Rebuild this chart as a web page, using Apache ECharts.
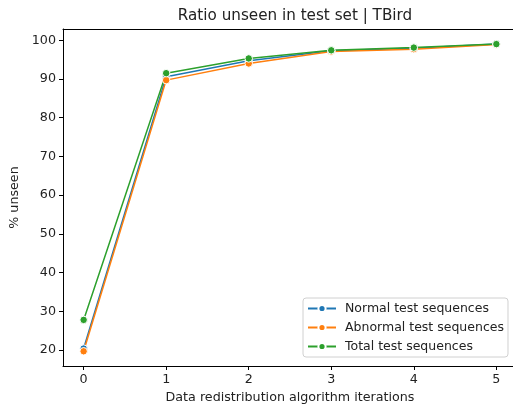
<!DOCTYPE html>
<html><head><meta charset="utf-8">
<script src="https://cdn.jsdelivr.net/npm/echarts@6/dist/echarts.min.js"></script>
<style>html,body{margin:0;padding:0;background:#fff}#c{width:513px;height:410px}</style>
</head><body><div id="c"></div>
<script>
const iterations = [0, 1, 2, 3, 4, 5];
const normalVals = [20.4, 90.6, 94.7, 97.3, 97.9, 99.0];
const abnormalVals = [19.7, 89.7, 94.0, 97.1, 97.7, 98.9];
const totalVals = [27.8, 91.5, 95.3, 97.4, 98.1, 99.0];
const xTicks = [0, 1, 2, 3, 4, 5];
const yTicks = [20, 30, 40, 50, 60, 70, 80, 90, 100];

const font = 'DejaVu Sans';
const fs = 12.7;
function mk(name, vals, color) {
  return {
    name, type: 'line', data: iterations.map((x, i) => [x, vals[i]]),
    symbol: 'circle', symbolSize: 7.5, showSymbol: true,
    lineStyle: { color, width: 1.5 },
    itemStyle: { color, borderColor: '#fff', borderWidth: 1 },
    emphasis: { disabled: true }, animation: false
  };
}
const chart = echarts.init(document.getElementById('c'));
chart.setOption({
  animation: false,
  title: { text: 'Ratio unseen in test set | TBird', left: 290, top: 4, textAlign: 'center',
    textStyle: { fontFamily: font, fontSize: 15.2, fontWeight: 'normal', color: '#222' } },
  grid: { left: 63, top: 29, width: 454, height: 337, show: false, outerBoundsMode: 'none' },
  legend: {
    orient: 'vertical', left: 303, top: 298, padding: [4, 4, 4, 4],
    itemWidth: 28, itemHeight: 9, itemGap: 6,
    backgroundColor: '#fff', borderColor: '#d0d0d0', borderWidth: 1, borderRadius: 3,
    textStyle: { fontFamily: font, fontSize: 12.5, color: '#222', padding: [0, 0, 0, 4] },
    data: ['Normal test sequences', 'Abnormal test sequences', 'Total test sequences']
  },
  xAxis: [{
    type: 'value', min: -0.25, max: 5.25,
    name: 'Data redistribution algorithm iterations', nameLocation: 'middle', nameGap: 25,
    nameTextStyle: { fontFamily: font, fontSize: fs, color: '#222' },
    axisLine: { show: true, onZero: false, lineStyle: { color: '#000' } },
    axisTick: { show: true, length: 4, inside: false, customValues: xTicks, lineStyle: { color: '#000' } },
    axisLabel: { customValues: xTicks, fontFamily: font, fontSize: fs, color: '#222', margin: 7 },
    splitLine: { show: false }
  }, {
    type: 'value', position: 'top', min: -0.25, max: 5.25,
    axisLine: { show: true, onZero: false, lineStyle: { color: '#000' } },
    axisTick: { show: false }, axisLabel: { show: false }, splitLine: { show: false }
  }],
  yAxis: {
    type: 'value', min: 15.9, max: 102.9,
    name: '% unseen', nameLocation: 'middle', nameGap: 38, nameRotate: 90,
    nameTextStyle: { fontFamily: font, fontSize: fs, color: '#222' },
    axisLine: { show: true, onZero: false, lineStyle: { color: '#000' } },
    axisTick: { show: true, length: 4, inside: false, customValues: yTicks, lineStyle: { color: '#000' } },
    axisLabel: { customValues: yTicks, fontFamily: font, fontSize: fs, color: '#222', margin: 7 },
    splitLine: { show: false }
  },
  series: [
    mk('Normal test sequences', normalVals, '#1f77b4'),
    mk('Abnormal test sequences', abnormalVals, '#ff7f0e'),
    mk('Total test sequences', totalVals, '#2ca02c')
  ]
});
</script></body></html>
